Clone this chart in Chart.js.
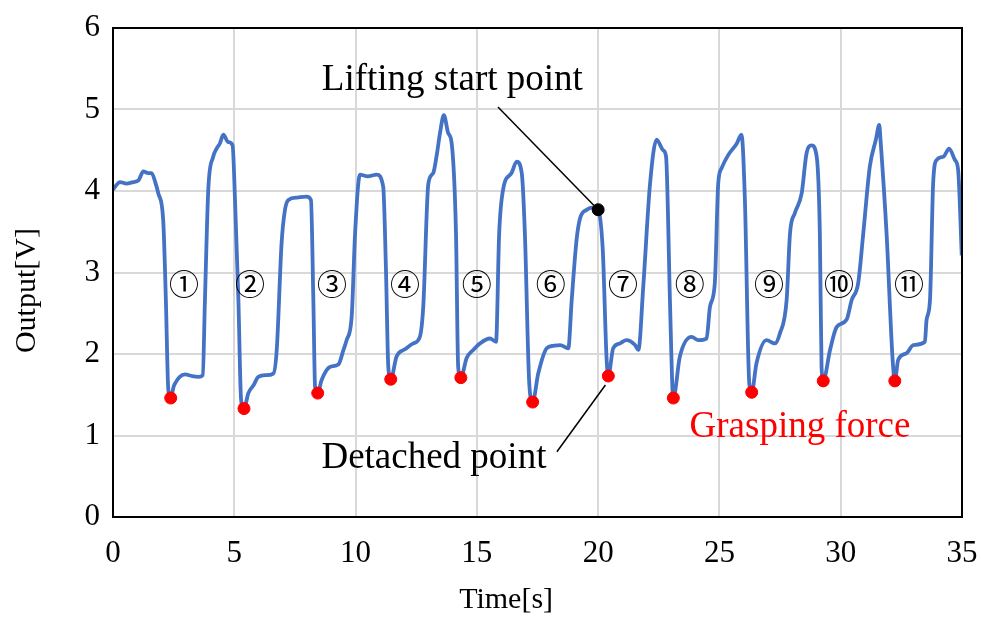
<!DOCTYPE html>
<html>
<head>
<meta charset="utf-8">
<script src="https://cdn.jsdelivr.net/npm/chart.js@4/dist/chart.umd.min.js"></script>
<style>
  html, body { margin: 0; padding: 0; background: #fff; }
  #wrap { width: 981px; height: 619px; position: relative; }
</style>
</head>
<body>
<div id="wrap"><canvas id="c" width="981" height="619"></canvas></div>
<script>
// ---- Data ----
const times = [0.00,0.29,0.55,0.84,1.05,1.25,1.45,1.59,1.75,1.87,2.07,2.18,2.28,2.38,2.50,2.56,2.75,2.97,3.25,3.52,3.70,3.79,3.93,4.13,4.27,4.40,4.55,4.75,4.93,5.03,5.17,5.28,5.40,5.58,5.80,5.99,6.30,6.61,6.75,6.95,7.09,7.23,7.60,7.98,8.16,8.26,8.33,8.44,8.60,8.94,9.29,9.50,9.63,9.84,9.98,10.18,10.50,10.87,11.14,11.25,11.35,11.45,11.69,12.05,12.38,12.65,12.79,13.00,13.20,13.35,13.48,13.64,13.82,13.96,14.14,14.23,14.34,14.58,14.85,15.13,15.54,15.79,15.92,16.09,16.43,16.64,16.85,16.98,17.16,17.30,17.53,17.88,18.15,18.43,18.77,18.91,19.11,19.25,19.53,19.80,20.00,20.19,20.35,20.42,20.62,20.90,21.17,21.52,21.66,21.86,22.14,22.41,22.68,22.80,22.96,23.07,23.10,23.37,23.85,24.13,24.47,24.61,24.81,24.95,25.09,25.36,25.71,25.91,26.05,26.23,26.33,26.53,26.94,27.29,27.49,27.77,27.91,28.11,28.39,28.59,28.80,29.01,29.14,29.21,29.28,29.56,29.83,30.24,30.45,30.72,30.93,31.20,31.45,31.59,31.64,31.89,32.14,32.23,32.37,32.72,32.99,33.47,33.54,33.68,33.81,33.95,34.23,34.47,34.71,34.84,34.99];
const outputs = [4.02,4.11,4.09,4.11,4.13,4.24,4.22,4.22,4.10,3.97,3.64,2.66,1.56,1.46,1.60,1.64,1.72,1.75,1.73,1.72,1.74,2.66,4.03,4.42,4.52,4.58,4.69,4.60,4.56,3.89,2.66,1.44,1.33,1.52,1.62,1.72,1.74,1.76,2.05,3.36,3.77,3.89,3.92,3.93,3.89,2.66,1.60,1.52,1.68,1.84,1.87,2.05,2.17,2.46,3.48,4.20,4.18,4.20,4.05,3.07,1.84,1.69,1.97,2.06,2.13,2.21,2.58,4.09,4.22,4.45,4.71,4.93,4.71,4.59,3.48,1.84,1.71,1.95,2.05,2.13,2.19,2.15,3.48,4.03,4.22,4.36,4.22,3.48,1.64,1.41,1.76,2.07,2.10,2.11,2.07,2.66,3.40,3.66,3.77,3.80,3.77,3.28,1.93,1.73,2.07,2.13,2.17,2.11,2.05,2.83,4.09,4.63,4.50,4.42,2.66,1.52,1.46,1.97,2.21,2.17,2.19,2.58,2.87,4.09,4.28,4.44,4.58,4.69,3.89,1.64,1.53,1.89,2.17,2.13,2.25,2.66,3.48,3.73,3.97,4.46,4.56,4.42,3.48,1.84,1.67,2.05,2.33,2.42,2.66,2.87,3.48,4.30,4.63,4.81,4.63,3.48,1.93,1.67,1.93,2.01,2.11,2.15,2.42,2.66,4.09,4.38,4.42,4.52,4.38,4.26,3.21];

const graspTimes  = [2.38,5.40,8.44,11.45,14.34,17.30,20.42,23.10,26.33,29.28,32.23];
const graspValues = [1.46,1.33,1.52,1.69,1.71,1.41,1.73,1.46,1.53,1.67,1.67];

const liftTime = [20.0];
const liftValue = [3.77];

const cycleLabels = ['①','②','③','④','⑤','⑥','⑦','⑧','⑨','⑩','⑪'];
const cycleLabelTimes = [2.93,5.65,9.03,12.04,15.0,18.05,21.02,23.78,27.04,29.93,32.81];
const cycleLabelLevel = 2.87;

const xTicks = [0,5,10,15,20,25,30,35];
const yTicks = [0,1,2,3,4,5,6];

const xTitle = 'Time[s]';
const yTitle = 'Output[V]';

// annotations (data coordinates)
const liftText = {text: 'Lifting start point', x: 13.99, y: 5.36};
const liftLeader = {x1: 15.87, y1: 5.03};
const detachText = {text: 'Detached point', x: 13.23, y: 0.72};
const detachLeader = {x1: 18.30, y1: 0.80, x2: 20.30, y2: 1.62};
const graspText = {text: 'Grasping force', x: 28.32, y: 1.10};

// ---- Build chart ----
const lineData = times.map((t, i) => ({x: t, y: outputs[i]}));
const graspData = graspTimes.map((t, i) => ({x: t, y: graspValues[i]}));
const liftData = liftTime.map((t, i) => ({x: t, y: liftValue[i]}));

const SERIF = '"Liberation Serif", "Times New Roman", serif';

const annotPlugin = {
  id: 'annot',
  beforeDatasetsDraw(chart) {
    const {ctx, scales: {x, y}} = chart;
    ctx.save();
    ctx.strokeStyle = '#000';
    ctx.lineWidth = 1.5;
    ctx.beginPath();
    ctx.moveTo(x.getPixelForValue(liftLeader.x1), y.getPixelForValue(liftLeader.y1));
    ctx.lineTo(x.getPixelForValue(liftTime[0]), y.getPixelForValue(liftValue[0]));
    ctx.stroke();
    ctx.beginPath();
    ctx.moveTo(x.getPixelForValue(detachLeader.x1), y.getPixelForValue(detachLeader.y1));
    ctx.lineTo(x.getPixelForValue(detachLeader.x2), y.getPixelForValue(detachLeader.y2));
    ctx.stroke();
    ctx.restore();
  },
  afterDraw(chart) {
    const {ctx, chartArea: a, scales: {x, y}} = chart;
    ctx.save();
    ctx.strokeStyle = '#000';
    ctx.lineWidth = 2;
    ctx.strokeRect(a.left, a.top, a.right - a.left, a.bottom - a.top);
    ctx.textAlign = 'center';
    ctx.textBaseline = 'middle';
    ctx.fillStyle = '#000';
    // axis titles
    ctx.font = '30px ' + SERIF;
    ctx.fillText(xTitle, a.left + (a.right - a.left) * 0.463, chart.height - 19);
    ctx.save();
    ctx.translate(27, a.top + (a.bottom - a.top) * 0.537);
    ctx.rotate(-Math.PI / 2);
    ctx.fillText(yTitle, 0, 0);
    ctx.restore();
    // annotation texts
    ctx.font = '37px ' + SERIF;
    ctx.fillText(liftText.text, x.getPixelForValue(liftText.x), y.getPixelForValue(liftText.y));
    ctx.fillText(detachText.text, x.getPixelForValue(detachText.x), y.getPixelForValue(detachText.y));
    ctx.fillStyle = '#ff0000';
    ctx.fillText(graspText.text, x.getPixelForValue(graspText.x), y.getPixelForValue(graspText.y));
    ctx.fillStyle = '#000';
    ctx.font = '30px "Noto Sans CJK JP", "DejaVu Sans", sans-serif';
    cycleLabels.forEach((lab, i) => {
      ctx.fillText(lab, x.getPixelForValue(cycleLabelTimes[i]), y.getPixelForValue(cycleLabelLevel));
    });
    ctx.restore();
  }
};

new Chart(document.getElementById('c'), {
  type: 'scatter',
  data: {
    datasets: [
      {
        label: 'Grasping force',
        data: graspData,
        backgroundColor: '#ff0000',
        borderColor: '#ff0000',
        pointRadius: 6,
        pointHoverRadius: 6,
        showLine: false,
        order: 0
      },
      {
        label: 'Lifting start point',
        data: liftData,
        backgroundColor: '#000',
        borderColor: '#000',
        pointRadius: 6,
        showLine: false,
        order: 1
      },
      {
        label: 'Output',
        data: lineData,
        showLine: true,
        borderColor: '#4472C4',
        backgroundColor: '#4472C4',
        borderWidth: 3.8,
        pointRadius: 0,
        cubicInterpolationMode: 'monotone',
        order: 2
      }
    ]
  },
  options: {
    responsive: false,
    animation: false,
    events: [],
    layout: { padding: { top: 28, right: 19, left: 0, bottom: 0 } },
    plugins: { legend: { display: false }, tooltip: { enabled: false } },
    scales: {
      x: {
        type: 'linear',
        min: 0, max: 35,
        afterBuildTicks(scale) { scale.ticks = xTicks.map(v => ({value: v})); },
        afterFit(scale) { scale.height = 102; scale.paddingLeft = 0; scale.paddingRight = 0; },
        ticks: { color: '#000', font: { family: SERIF, size: 31 }, padding: 18, maxRotation: 0, autoSkip: false },
        grid: { color: '#d9d9d9', lineWidth: 2, drawTicks: false },
        border: { display: false },
        title: { display: false }
      },
      y: {
        type: 'linear',
        min: 0, max: 6,
        afterBuildTicks(scale) { scale.ticks = yTicks.map(v => ({value: v})); },
        afterFit(scale) { scale.width = 113; scale.paddingTop = 0; scale.paddingBottom = 0; },
        ticks: { color: '#000', font: { family: SERIF, size: 31 }, padding: 13 },
        grid: { color: '#d9d9d9', lineWidth: 2, drawTicks: false },
        border: { display: false },
        title: { display: false }
      }
    }
  },
  plugins: [annotPlugin]
});
</script>
</body>
</html>
